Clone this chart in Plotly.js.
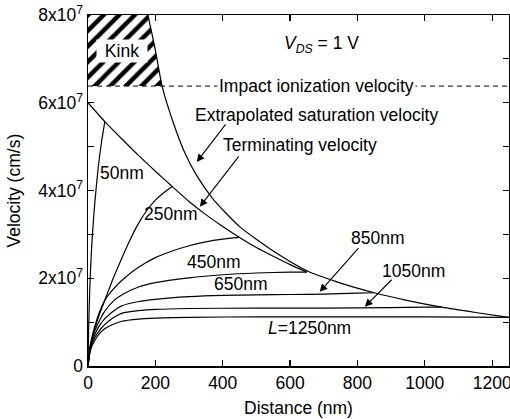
<!DOCTYPE html>
<html>
<head>
<meta charset="utf-8">
<script src="https://cdn.plot.ly/plotly-3.0.1.min.js"></script>
<style>
html,body{margin:0;padding:0;background:#fff;}
#chart{width:510px;height:419px;}
</style>
</head>
<body>
<div id="chart"></div>
<script>
// Values of velocity are in units of 1e7 cm/s, distance in nm.
const impactV = 6.38;
const vMax = 8;

// Extrapolated saturation velocity (envelope)
const envX = [178, 200, 220, 253, 288, 322, 372, 451, 550, 650, 750, 850, 950, 1050, 1150, 1250];
const envV = [8.0, 7.2, 6.38, 5.55, 4.85, 4.35, 3.8, 3.17, 2.62, 2.17, 1.89, 1.67, 1.49, 1.34, 1.22, 1.11];

// Terminating velocity
const termX = [0, 50, 100, 150, 200, 250, 300, 350, 400, 450, 500, 550, 600, 650];
const termV = [6.0, 5.57, 5.18, 4.80, 4.44, 4.09, 3.75, 3.45, 3.18, 2.93, 2.70, 2.50, 2.31, 2.14];

// Velocity profiles for each channel length L
const x50 = [0, 2, 5, 10, 15, 20, 30, 40, 50];
const v50 = [0, 0.9, 1.7, 2.6, 3.2, 3.7, 4.5, 5.1, 5.57];

const x250 = [0, 5, 10, 20, 35, 50, 75, 100, 125, 150, 175, 200, 225, 250];
const v250 = [0, 0.35, 0.55, 0.85, 1.2, 1.5, 2.0, 2.45, 2.88, 3.25, 3.55, 3.78, 3.95, 4.09];

const x450 = [0, 5, 10, 20, 35, 50, 75, 100, 150, 200, 250, 300, 350, 400, 450];
const v450 = [0, 0.4, 0.6, 0.9, 1.25, 1.5, 1.75, 1.95, 2.25, 2.47, 2.62, 2.74, 2.83, 2.89, 2.93];

const x650 = [0, 5, 10, 20, 35, 50, 75, 100, 150, 200, 300, 400, 500, 600, 650];
const v650 = [0, 0.35, 0.55, 0.8, 1.05, 1.25, 1.48, 1.62, 1.8, 1.9, 2.01, 2.08, 2.12, 2.14, 2.14];

const x850 = [0, 5, 10, 20, 35, 50, 75, 100, 150, 200, 300, 400, 500, 600, 700, 800, 850];
const v850 = [0, 0.32, 0.5, 0.72, 0.93, 1.08, 1.25, 1.37, 1.47, 1.52, 1.58, 1.61, 1.62, 1.63, 1.64, 1.66, 1.67];

const x1050 = [0, 5, 10, 20, 35, 50, 75, 100, 150, 200, 300, 500, 700, 900, 1000, 1050];
const v1050 = [0, 0.3, 0.46, 0.65, 0.82, 0.95, 1.1, 1.2, 1.26, 1.29, 1.31, 1.32, 1.32, 1.33, 1.34, 1.34];

const x1250 = [0, 5, 10, 20, 35, 50, 75, 100, 150, 200, 300, 500, 800, 1000, 1250];
const v1250 = [0, 0.28, 0.42, 0.58, 0.75, 0.85, 0.95, 1.02, 1.07, 1.09, 1.11, 1.12, 1.12, 1.12, 1.11];

const xTicks = [0, 200, 400, 600, 800, 1000, 1200];
const yTicks = [0, 1, 2, 3, 4, 5, 6, 7, 8];
const yTickText = ['0', '', '2x10<sup>7</sup>', '', '4x10<sup>7</sup>', '', '6x10<sup>7</sup>', '', '8x10<sup>7</sup>'];

const FONT = 'Liberation Sans, Arial, sans-serif';
const FS = 17.5;
const lineStyle = {color: '#000', width: 1.2, shape: 'spline', smoothing: 0.6};

// Kink region polygon built from the envelope above the impact line
const kinkX = [0], kinkY = [vMax];
for (let i = 0; i < envX.length; i++) {
  if (envV[i] >= impactV) { kinkX.push(envX[i]); kinkY.push(envV[i]); }
}
kinkX.push(0); kinkY.push(impactV);

const traces = [
  {x: kinkX, y: kinkY, mode: 'lines', fill: 'toself', line: {width: 0, color: '#000'},
   fillcolor: 'white',
   fillpattern: {shape: '/', size: 11, solidity: 0.4, fgcolor: '#000', bgcolor: '#fff'},
   hoverinfo: 'skip'},
  {x: [0, 1250], y: [impactV, impactV], mode: 'lines', line: {color: '#000', width: 1, dash: '5px,4px'}},
  {x: envX, y: envV, mode: 'lines', line: lineStyle},
  {x: termX, y: termV, mode: 'lines', line: lineStyle},
  {x: x50, y: v50, mode: 'lines', line: lineStyle},
  {x: x250, y: v250, mode: 'lines', line: lineStyle},
  {x: x450, y: v450, mode: 'lines', line: lineStyle},
  {x: x650, y: v650, mode: 'lines', line: lineStyle},
  {x: x850, y: v850, mode: 'lines', line: lineStyle},
  {x: x1050, y: v1050, mode: 'lines', line: lineStyle},
  {x: x1250, y: v1250, mode: 'lines', line: lineStyle}
];

function lab(text, x, y, extra) {
  return Object.assign({text: text, x: x, y: y, xref: 'x', yref: 'y', showarrow: false,
    font: {family: FONT, size: FS, color: '#000'}}, extra || {});
}
function arrow(x, y, ax, ay) {
  return {text: '', x: x, y: y, ax: ax, ay: ay, xref: 'x', yref: 'y', axref: 'x', ayref: 'y',
    showarrow: true, arrowhead: 2, arrowsize: 1.4, arrowwidth: 1.1, arrowcolor: '#000'};
}

const annotations = [
  lab('Kink', 100, 7.18, {bgcolor: '#fff', borderpad: 0, width: 50, height: 22}),
  lab('<i>V</i><sub><i>DS</i></sub> = 1 V', 694, 7.32),
  lab('Impact ionization velocity', 679, impactV, {bgcolor: '#fff', borderpad: 1}),
  lab('Extrapolated saturation velocity', 678, 5.72),
  lab('Terminating velocity', 629, 5.04),
  lab('50nm', 101, 4.39),
  lab('250nm', 246, 3.46),
  lab('450nm', 374, 2.36),
  lab('650nm', 454, 1.87),
  lab('850nm', 860, 2.92),
  lab('1050nm', 966, 2.17),
  lab('<i>L</i>=1250nm', 659, 0.855),
  arrow(323, 4.65, 412, 5.54),
  arrow(332, 3.63, 451, 4.81),
  arrow(688, 1.69, 807, 2.72),
  arrow(822, 1.35, 906, 2.0),
  {text: 'Velocity (cm/s)', xref: 'paper', yref: 'paper', x: -0.178, y: 0.5,
   xanchor: 'center', yanchor: 'middle', textangle: -90, showarrow: false,
   font: {family: FONT, size: FS, color: '#000'}}
];

const axisCommon = {
  showline: true, linecolor: '#000', linewidth: 1.5, mirror: 'ticks',
  ticks: 'inside', ticklen: 6, tickwidth: 1.2, tickcolor: '#000',
  showgrid: false, zeroline: false, ticklabeloverflow: 'allow',
  tickfont: {family: FONT, size: FS, color: '#000'}
};

const layout = {
  width: 510, height: 419,
  margin: {l: 88, r: 1, t: 15, b: 53},
  paper_bgcolor: '#fff', plot_bgcolor: '#fff',
  showlegend: false,
  font: {family: FONT, size: FS, color: '#000'},
  xaxis: Object.assign({}, axisCommon, {
    range: [0, 1250], tickvals: xTicks, ticktext: xTicks.map(String),
    title: {text: 'Distance (nm)', font: {family: FONT, size: FS, color: '#000'}, standoff: 10}
  }),
  yaxis: Object.assign({}, axisCommon, {
    range: [0, vMax], tickvals: yTicks, ticktext: yTickText
  }),
  annotations: annotations
};

Plotly.newPlot('chart', traces, layout, {displayModeBar: false, staticPlot: true});
</script>
</body>
</html>
